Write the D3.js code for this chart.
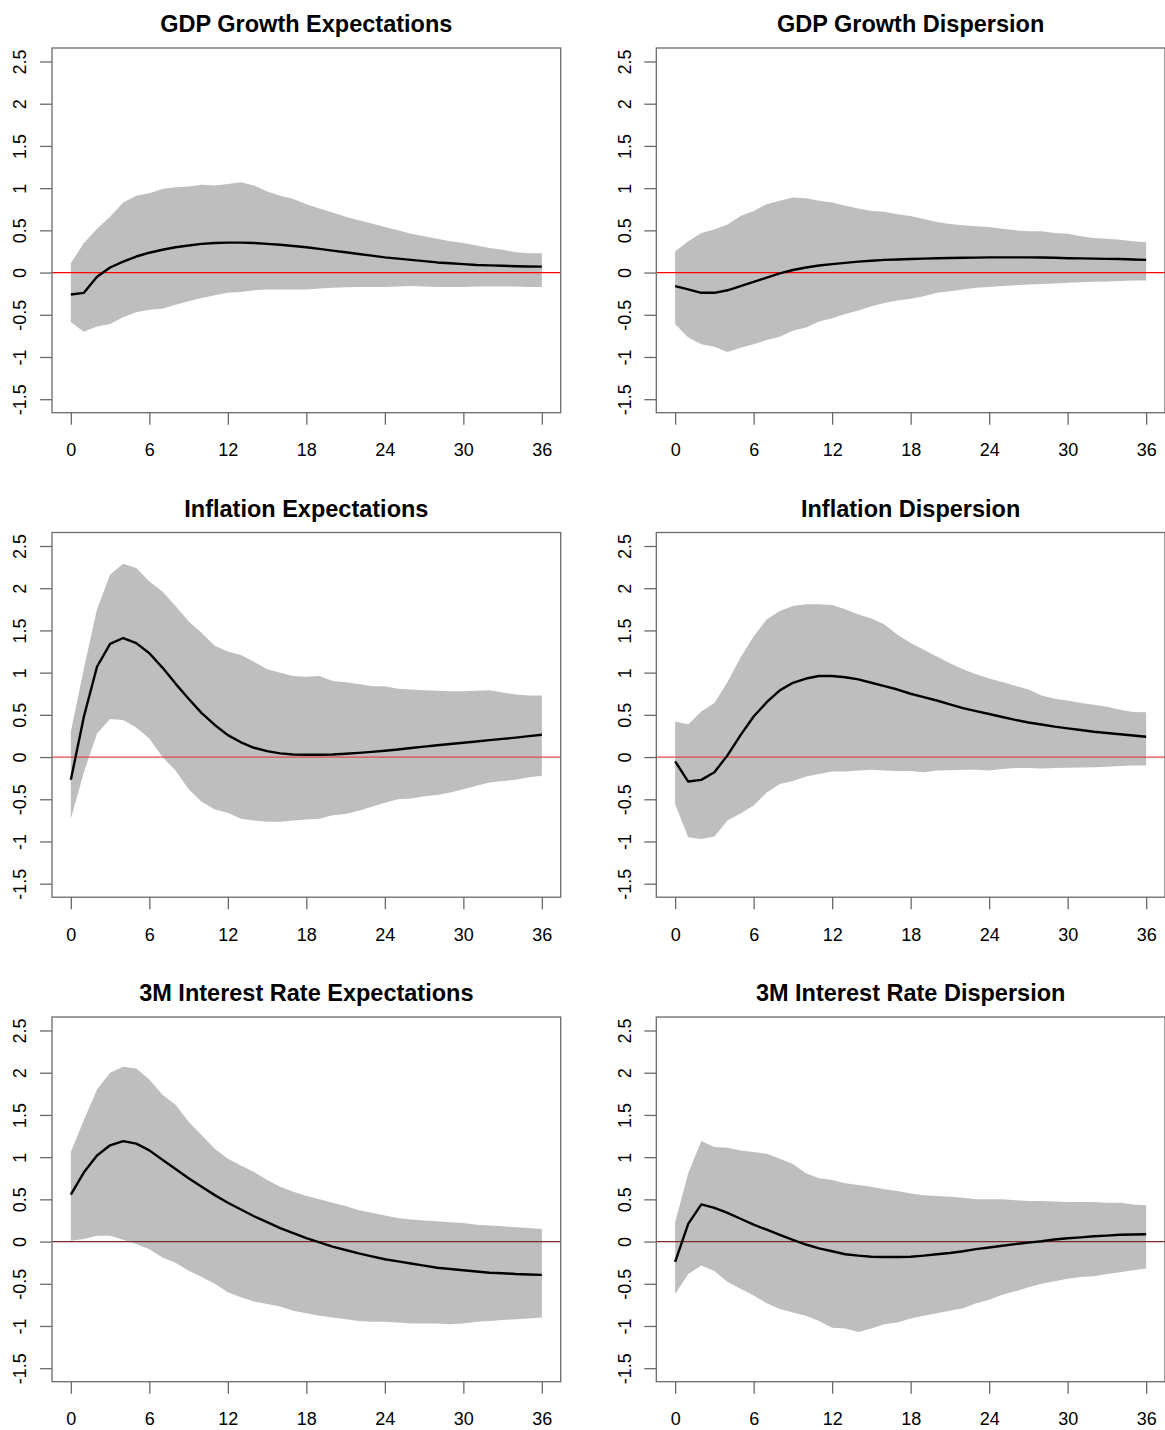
<!DOCTYPE html>
<html>
<head>
<meta charset="utf-8">
<script src="https://cdn.jsdelivr.net/npm/d3@7"></script>
<style>
  body { margin: 0; background: #fff; }
  text { font-family: "Liberation Sans", Arial, sans-serif; }
</style>
</head>
<body>
<div id="chart"></div>
<script>
// horizon (months) and axis ticks
var horizon = d3.range(0, 37);
var xTicks = [0, 6, 12, 18, 24, 30, 36];
var yTicks = [-1.5, -1, -0.5, 0, 0.5, 1, 1.5, 2, 2.5];

var titles = ["GDP Growth Expectations", "GDP Growth Dispersion",
  "Inflation Expectations", "Inflation Dispersion",
  "3M Interest Rate Expectations", "3M Interest Rate Dispersion"];

// GDP growth expectations
var gdpExpMed = [-0.26,-0.24,-0.05,0.06,0.13,0.19,0.235,0.27,0.30,0.32,0.34,0.35,0.355,0.355,0.35,0.34,0.33,0.315,0.30,0.28,0.26,0.24,0.22,0.20,0.18,0.165,0.15,0.135,0.12,0.11,0.10,0.09,0.085,0.08,0.075,0.072,0.07];
var gdpExpHi = [0.11,0.35,0.52,0.66,0.83,0.91,0.94,0.99,1.01,1.02,1.04,1.03,1.05,1.07,1.03,0.96,0.91,0.87,0.81,0.76,0.71,0.66,0.62,0.58,0.54,0.50,0.46,0.43,0.40,0.37,0.35,0.32,0.29,0.27,0.24,0.23,0.23];
var gdpExpLo = [-0.59,-0.70,-0.64,-0.61,-0.53,-0.47,-0.44,-0.43,-0.38,-0.34,-0.30,-0.27,-0.24,-0.23,-0.21,-0.20,-0.20,-0.20,-0.20,-0.19,-0.18,-0.175,-0.17,-0.17,-0.17,-0.165,-0.16,-0.165,-0.17,-0.17,-0.17,-0.165,-0.165,-0.165,-0.165,-0.17,-0.17];

// GDP growth dispersion
var gdpDisMed = [-0.16,-0.20,-0.24,-0.24,-0.21,-0.16,-0.11,-0.06,-0.01,0.03,0.06,0.083,0.10,0.115,0.13,0.14,0.15,0.155,0.16,0.165,0.17,0.172,0.175,0.177,0.18,0.18,0.18,0.18,0.178,0.175,0.17,0.168,0.165,0.162,0.16,0.155,0.15];
var gdpDisHi = [0.25,0.37,0.47,0.51,0.57,0.67,0.73,0.81,0.85,0.89,0.88,0.85,0.83,0.79,0.76,0.73,0.72,0.69,0.67,0.635,0.60,0.575,0.56,0.55,0.54,0.52,0.50,0.49,0.49,0.47,0.46,0.43,0.41,0.40,0.39,0.37,0.36];
var gdpDisLo = [-0.61,-0.77,-0.85,-0.88,-0.94,-0.89,-0.85,-0.80,-0.76,-0.69,-0.65,-0.58,-0.54,-0.49,-0.45,-0.40,-0.36,-0.33,-0.31,-0.28,-0.24,-0.22,-0.20,-0.18,-0.17,-0.16,-0.15,-0.14,-0.135,-0.13,-0.12,-0.115,-0.11,-0.105,-0.10,-0.095,-0.095];

// inflation expectations
var infExpMed = [-0.27,0.48,1.07,1.34,1.41,1.35,1.23,1.06,0.87,0.69,0.52,0.38,0.26,0.175,0.11,0.07,0.044,0.03,0.028,0.028,0.03,0.04,0.05,0.062,0.075,0.09,0.107,0.123,0.14,0.155,0.17,0.185,0.20,0.215,0.23,0.248,0.265];
var infExpHi = [0.30,1.05,1.75,2.16,2.29,2.24,2.08,1.96,1.79,1.61,1.47,1.32,1.25,1.21,1.13,1.04,1.00,0.96,0.95,0.96,0.90,0.885,0.865,0.84,0.84,0.81,0.80,0.79,0.785,0.78,0.78,0.785,0.79,0.765,0.74,0.73,0.73];
var infExpLo = [-0.73,-0.18,0.28,0.45,0.44,0.35,0.22,0.0,-0.16,-0.38,-0.53,-0.62,-0.66,-0.73,-0.75,-0.766,-0.766,-0.75,-0.74,-0.73,-0.69,-0.675,-0.635,-0.59,-0.54,-0.50,-0.49,-0.465,-0.45,-0.42,-0.38,-0.34,-0.30,-0.285,-0.27,-0.24,-0.22];

// inflation dispersion
var infDisMed = [-0.05,-0.29,-0.27,-0.18,0.02,0.26,0.48,0.65,0.79,0.88,0.93,0.96,0.96,0.945,0.92,0.88,0.84,0.80,0.75,0.71,0.67,0.625,0.58,0.545,0.51,0.475,0.44,0.41,0.385,0.36,0.34,0.32,0.30,0.285,0.27,0.255,0.24];
var infDisHi = [0.42,0.385,0.54,0.64,0.89,1.18,1.43,1.63,1.73,1.79,1.81,1.81,1.80,1.75,1.69,1.64,1.57,1.45,1.35,1.27,1.19,1.11,1.04,0.98,0.93,0.89,0.845,0.80,0.73,0.69,0.67,0.64,0.62,0.595,0.56,0.535,0.53];
var infDisLo = [-0.56,-0.95,-0.97,-0.94,-0.75,-0.67,-0.575,-0.42,-0.32,-0.285,-0.23,-0.20,-0.17,-0.17,-0.16,-0.15,-0.16,-0.165,-0.165,-0.18,-0.16,-0.155,-0.15,-0.15,-0.16,-0.14,-0.13,-0.13,-0.135,-0.13,-0.127,-0.125,-0.12,-0.115,-0.107,-0.10,-0.10];

// 3M interest rate expectations
var irExpMed = [0.555,0.82,1.02,1.14,1.19,1.16,1.08,0.97,0.86,0.75,0.65,0.55,0.46,0.38,0.30,0.23,0.16,0.10,0.04,-0.01,-0.06,-0.10,-0.14,-0.175,-0.21,-0.235,-0.26,-0.285,-0.31,-0.325,-0.34,-0.355,-0.37,-0.375,-0.385,-0.39,-0.395];
var irExpHi = [1.06,1.44,1.80,2.00,2.07,2.05,1.92,1.74,1.62,1.42,1.26,1.10,0.98,0.90,0.825,0.73,0.65,0.59,0.54,0.50,0.46,0.42,0.37,0.34,0.31,0.28,0.26,0.25,0.24,0.23,0.22,0.20,0.19,0.18,0.17,0.16,0.15];
var irExpLo = [0.01,0.03,0.07,0.07,0.02,-0.03,-0.09,-0.19,-0.25,-0.345,-0.42,-0.50,-0.60,-0.66,-0.71,-0.74,-0.77,-0.82,-0.85,-0.88,-0.90,-0.92,-0.94,-0.95,-0.95,-0.96,-0.97,-0.97,-0.97,-0.98,-0.97,-0.95,-0.94,-0.93,-0.92,-0.91,-0.90];

// 3M interest rate dispersion
var irDisMed = [-0.24,0.21,0.44,0.40,0.34,0.27,0.20,0.14,0.08,0.02,-0.035,-0.08,-0.115,-0.15,-0.167,-0.18,-0.183,-0.183,-0.18,-0.167,-0.15,-0.135,-0.115,-0.09,-0.07,-0.05,-0.03,-0.012,0.004,0.024,0.04,0.05,0.063,0.07,0.08,0.083,0.087];
var irDisHi = [0.23,0.81,1.19,1.12,1.11,1.08,1.06,1.04,0.98,0.92,0.81,0.75,0.73,0.69,0.67,0.65,0.62,0.60,0.57,0.55,0.54,0.53,0.52,0.50,0.50,0.50,0.49,0.48,0.48,0.475,0.47,0.47,0.47,0.46,0.46,0.44,0.43];
var irDisLo = [-0.62,-0.385,-0.285,-0.35,-0.48,-0.56,-0.64,-0.73,-0.80,-0.84,-0.88,-0.94,-1.02,-1.03,-1.07,-1.03,-0.98,-0.96,-0.91,-0.88,-0.85,-0.82,-0.79,-0.73,-0.69,-0.63,-0.59,-0.54,-0.50,-0.47,-0.44,-0.42,-0.41,-0.385,-0.365,-0.34,-0.32];

var meds = [gdpExpMed, gdpDisMed, infExpMed, infDisMed, irExpMed, irDisMed];
var his = [gdpExpHi, gdpDisHi, infExpHi, infDisHi, irExpHi, irDisHi];
var los = [gdpExpLo, gdpDisLo, infExpLo, infDisLo, irExpLo, irDisLo];

//page and panel geometry
var W = 1165, H = 1430;
var boxW = 508.7, boxH = 364.7, rowStep = 484.5;
var boxLeft = [52, 656.3];
var zeroCol = ["#ff0000", "#ff0000", "#e04a4a", "#e04a4a", "#7a2a2a", "#7a2a2a"];

var svg = d3.select("#chart").append("svg")
  .attr("width", W).attr("height", H);
svg.append("rect").attr("width", W).attr("height", H).style("fill", "#fff");

titles.forEach(function(title, i) {
  var col = i % 2, row = Math.floor(i / 2);
  var x0 = boxLeft[col], y0 = 48 + row * rowStep;

  var x = d3.scaleLinear().domain([-1.44, 37.44]).range([x0, x0 + boxW]);
  var y = d3.scaleLinear().domain([-1.66, 2.66]).range([y0 + boxH, y0]);

  var g = svg.append("g");

  //confidence band
  var area = d3.area()
    .x(function(d) { return x(d); })
    .y0(function(d) { return y(los[i][d]); })
    .y1(function(d) { return y(his[i][d]); });
  g.append("path").datum(horizon).attr("d", area)
    .style("fill", "#bebebe");

  //zero line
  g.append("line")
    .attr("x1", x0).attr("x2", x0 + boxW)
    .attr("y1", y(0)).attr("y2", y(0))
    .style("stroke", zeroCol[i]).style("stroke-width", 1.2);

  //median response
  var line = d3.line()
    .x(function(d) { return x(d); })
    .y(function(d) { return y(meds[i][d]); });
  g.append("path").datum(horizon).attr("d", line)
    .style("fill", "none").style("stroke", "#000")
    .style("stroke-width", 2.4).style("stroke-linejoin", "round");

  //box
  g.append("rect")
    .attr("x", x0).attr("y", y0).attr("width", boxW).attr("height", boxH)
    .style("fill", "none").style("stroke", "#6a6a6a").style("stroke-width", 1.3);

  //x axis
  var xa = g.append("g")
    .attr("transform", "translate(0," + (y0 + boxH) + ")")
    .call(d3.axisBottom(x).tickValues(xTicks).tickSize(12).tickFormat(function(d) { return String(d); }));
  xa.select(".domain").remove();
  xa.selectAll(".tick line").style("stroke", "#6a6a6a").style("stroke-width", 1.3);
  xa.selectAll(".tick text")
    .attr("y", 37.3).attr("dy", "0.35em")
    .style("font-size", "18px").style("fill", "#000");

  //y axis, labels rotated like R's default
  var ya = g.append("g")
    .attr("transform", "translate(" + x0 + ",0)")
    .call(d3.axisLeft(y).tickValues(yTicks).tickSize(12).tickFormat(function(d) { return String(d); }));
  ya.select(".domain").remove();
  ya.selectAll(".tick line").style("stroke", "#6a6a6a").style("stroke-width", 1.3);
  ya.selectAll(".tick text")
    .attr("x", 0).attr("dy", "0.35em")
    .attr("text-anchor", "middle")
    .attr("transform", "translate(-32,0) rotate(-90)")
    .style("font-size", "18px").style("fill", "#000");

  //title
  g.append("text")
    .attr("x", x0 + boxW / 2).attr("y", y0 - 15.7)
    .attr("text-anchor", "middle")
    .style("font-size", "23.5px").style("font-weight", "bold")
    .text(title);
});
</script>
</body>
</html>
